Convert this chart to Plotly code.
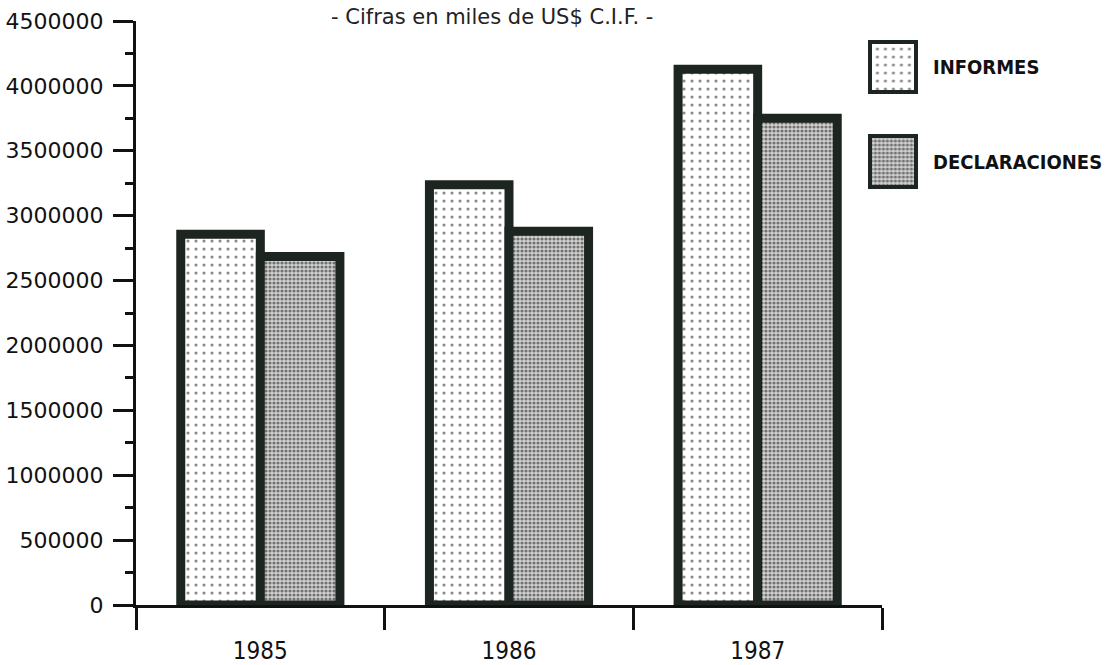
import plotly.graph_objects as go

years = ["1985", "1986", "1987"]
informes = [2856000, 3238000, 4129000]
declaraciones = [2686000, 2879000, 3751000]
series_names = ["INFORMES", "DECLARACIONES"]
subtitle = "- Cifras en miles de US$ C.I.F. -"

border = "#1c2520"
pat_inf = dict(shape=".", bgcolor="white", fgcolor="#111111", size=8, solidity=0.12)
pat_dec = dict(shape=".", bgcolor="#d2d2d2", fgcolor="#111111", size=4, solidity=0.5)

fig = go.Figure()
fig.add_trace(go.Bar(x=years, y=informes, name=series_names[0], showlegend=False,
                     marker=dict(color="white", pattern=pat_inf, line=dict(color=border, width=9))))
fig.add_trace(go.Bar(x=years, y=declaraciones, name=series_names[1], showlegend=False,
                     marker=dict(color="#d2d2d2", pattern=pat_dec, line=dict(color=border, width=9))))

# legend swatches on small auxiliary axes
fig.add_trace(go.Bar(x=[0], y=[1], width=[1], xaxis="x2", yaxis="y2", showlegend=False, hoverinfo="skip",
                     marker=dict(color="white", pattern=pat_inf, line=dict(color=border, width=4))))
fig.add_trace(go.Bar(x=[0], y=[1], width=[1], xaxis="x3", yaxis="y3", showlegend=False, hoverinfo="skip",
                     marker=dict(color="#d2d2d2", pattern=pat_dec, line=dict(color=border, width=4))))

axcol = "#111111"
W, H = 1113, 665
ml, mr, mt, mb = 136, 10, 21, 60
pw = W - ml - mr
ph = H - mt - mb

def px_x(p):
    return (p - ml) / pw

def px_y(p):
    return (H - mb - p) / ph

hidden = dict(visible=False, fixedrange=True)

fig.update_layout(
    width=W, height=H,
    margin=dict(l=ml, r=mr, t=mt, b=mb, autoexpand=False),
    paper_bgcolor="white", plot_bgcolor="white",
    barmode="group", bargap=0.36, bargroupgap=0,
    xaxis=dict(domain=[0, px_x(882)], type="category", range=[-0.5, 2.5], automargin=False,
               showline=True, linecolor=axcol, linewidth=3,
               ticks="outside", tickson="boundaries", ticklen=22, tickwidth=3, tickcolor=axcol,
               showgrid=False, ticklabelstandoff=22,
               tickfont=dict(family="DejaVu Sans Condensed", size=24, color="#111")),
    yaxis=dict(range=[0, 4500000], dtick=500000, tickformat="d", automargin=False,
               showline=True, linecolor=axcol, linewidth=3,
               ticks="outside", ticklen=20, tickwidth=3, tickcolor=axcol,
               showgrid=False, zeroline=False, ticklabelstandoff=5,
               minor=dict(dtick=250000, ticks="outside", ticklen=8, tickwidth=3, tickcolor=axcol),
               tickfont=dict(family="DejaVu Sans", size=22, color="#111")),
    xaxis2=dict(domain=[px_x(865.4), px_x(920.6)], range=[-0.6, 0.6], anchor="y2", **hidden),
    yaxis2=dict(domain=[px_y(97), px_y(37)], range=[-0.1, 1.1], anchor="x2", **hidden),
    xaxis3=dict(domain=[px_x(865.4), px_x(920.6)], range=[-0.6, 0.6], anchor="y3", **hidden),
    yaxis3=dict(domain=[px_y(192), px_y(131)], range=[-0.1, 1.1], anchor="x3", **hidden),
    annotations=[
        dict(text=subtitle, x=px_x(492), y=px_y(17), xref="paper", yref="paper",
             xanchor="center", yanchor="middle", showarrow=False,
             font=dict(family="DejaVu Sans", size=21, color="#222")),
        dict(text=series_names[0], x=px_x(931), y=px_y(67), xref="paper", yref="paper",
             xanchor="left", yanchor="middle", showarrow=False,
             font=dict(family="DejaVu Sans Condensed", size=20, color="#111", weight="bold")),
        dict(text=series_names[1], x=px_x(931), y=px_y(162), xref="paper", yref="paper",
             xanchor="left", yanchor="middle", showarrow=False,
             font=dict(family="DejaVu Sans Condensed", size=20, color="#111", weight="bold")),
    ],
)

fig.write_html("out.html", config={"displayModeBar": False},
               post_script="document.body.style.margin='0px';")
